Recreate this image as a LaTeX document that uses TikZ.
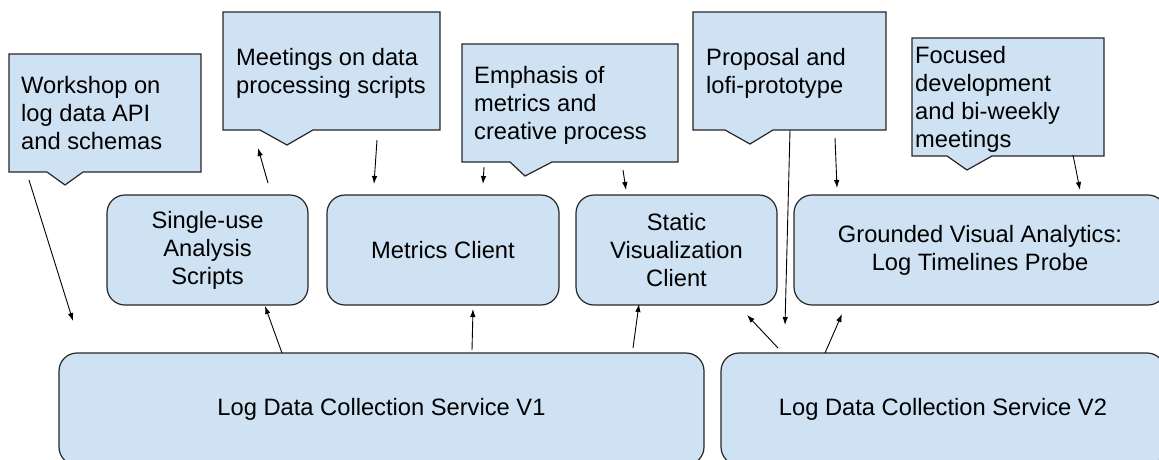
\documentclass[tikz,border=0pt]{standalone}
\usepackage{fontspec}
\setmainfont{Liberation Sans}
\usetikzlibrary{arrows.meta}
\definecolor{boxfill}{HTML}{CFE2F3}
\definecolor{boxline}{HTML}{262626}
\newcommand\diagfont{\fontsize{23.7}{28}\selectfont}
\newcommand\fl{\rule{0pt}{18pt}}
\begin{document}
\begin{tikzpicture}[x=1pt,y=-1pt,
  rbox/.style={draw=boxline, fill=boxfill, line width=1.2pt, rounded corners=18pt,
    inner sep=0pt, align=center, font=\diagfont},
  callout/.style={draw=boxline, fill=boxfill, line width=1.2pt, line join=miter},
  ctext/.style={anchor=north west, inner sep=0pt, align=left, font=\diagfont},
  conn/.style={line width=0.9pt, draw=black, -{Latex[length=8pt,width=5.5pt]}}]
\useasboundingbox (0,0) rectangle (1159,459);
\clip (0,0) rectangle (1159,459);

% callouts
\draw[callout] (9,54) -- (201,54) -- (201,172) -- (83,172) -- (65,185) -- (47,172) -- (9,172) -- cycle;
\node[ctext] (ws) at (21,75) {\fl Workshop on\\log data API\\and schemas};

\draw[callout] (223,12) -- (440,12) -- (440,130) -- (313,130) -- (287,145) -- (260,130) -- (223,130) -- cycle;
\node[ctext] (mt) at (236,47) {\fl Meetings on data\\processing scripts};

\draw[callout] (462,44) -- (678,44) -- (678,162) -- (552,162) -- (525,176) -- (510,162) -- (462,162) -- cycle;
\node[ctext] (em) at (474,65) {\fl Emphasis of\\metrics and\\creative process};

\draw[callout] (693,12) -- (886,12) -- (886,130) -- (773,130) -- (750,144) -- (725,130) -- (693,130) -- cycle;
\node[ctext] (pr) at (706,47) {\fl Proposal and\\lofi-prototype};

\draw[callout] (912,38) -- (1104,38) -- (1104,156) -- (992,156) -- (967,170) -- (947,156) -- (912,156) -- cycle;
\node[ctext] (fo) at (915,45) {\fl Focused\\development\\and bi-weekly\\meetings};

% middle boxes
\node[rbox, minimum width=201pt, minimum height=110pt] (sa) at (207.5,250) {Single-use\\Analysis\\Scripts};
\node[rbox, minimum width=232pt, minimum height=110pt] (mc) at (443,250) {Metrics Client};
\node[rbox, minimum width=201pt, minimum height=110pt] (sv) at (676.5,250) {Static\\Visualization\\Client};
\node[rbox, minimum width=372pt, minimum height=110pt] (gv) at (980,250) {Grounded Visual Analytics:\\Log Timelines Probe};

% bottom boxes
\node[rbox, minimum width=645pt, minimum height=112pt] (v1) at (381.5,409) {Log Data Collection Service V1};
\node[rbox, minimum width=444pt, minimum height=112pt] (v2) at (943,409) {Log Data Collection Service V2};

% connector end points
\coordinate (a1s) at (29,180);   \coordinate (a1e) at (73,321);
\coordinate (a2s) at (268,183);  \coordinate (a2e) at (258,148);
\coordinate (a3s) at (377,140);  \coordinate (a3e) at (374,184);
\coordinate (a4s) at (484,167);  \coordinate (a4e) at (483,184);
\coordinate (a5s) at (623,170);  \coordinate (a5e) at (626,190);
\coordinate (a6s) at (790,130);  \coordinate (a6e) at (785,325);
\coordinate (a7s) at (835,138);  \coordinate (a7e) at (837,188);
\coordinate (a8s) at (1073,155); \coordinate (a8e) at (1080,190);
\coordinate (a9s) at (282,353);  \coordinate (a9e) at (265,306);
\coordinate (a10s) at (472,350); \coordinate (a10e) at (473,309);
\coordinate (a11s) at (633,348); \coordinate (a11e) at (639,304);
\coordinate (a12s) at (778,348); \coordinate (a12e) at (747,315);
\coordinate (a13s) at (825,353); \coordinate (a13e) at (842,314);

\foreach \i in {1,...,13} { \draw[conn] (a\i s) -- (a\i e); }
\end{tikzpicture}
\end{document}
